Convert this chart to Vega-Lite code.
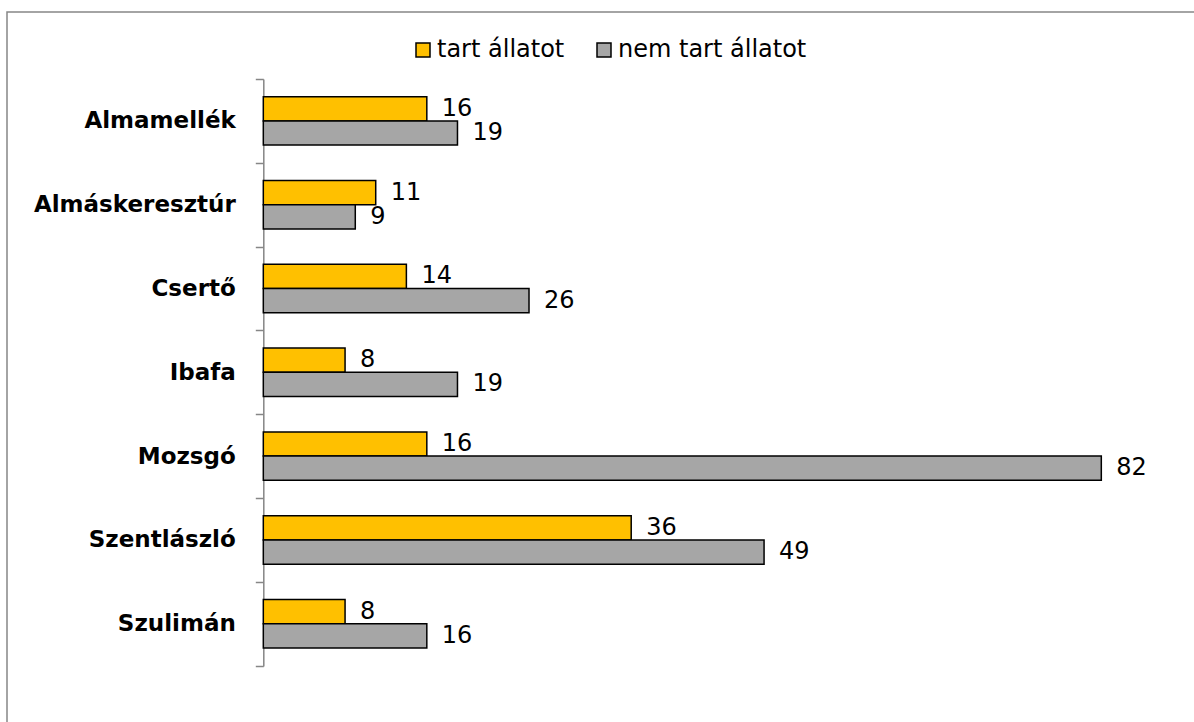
{
  "$schema": "https://vega.github.io/schema/vega-lite/v6.json",
  "autosize": {"type": "none"},
  "padding": {"left": 7, "top": 12, "right": 0, "bottom": 0},
  "width": 1187,
  "height": 710,
  "background": "white",
  "config": {
    "font": "DejaVu Sans",
    "view": {"stroke": "#868686", "strokeWidth": 1.5, "strokeDash": [1187, 1897, 710, 10]}
  },
  "data": {
    "values": [
      {"telepules": "Almamellék", "csoport": "tart állatot", "ertek": 16},
      {"telepules": "Almamellék", "csoport": "nem tart állatot", "ertek": 19},
      {"telepules": "Almáskeresztúr", "csoport": "tart állatot", "ertek": 11},
      {"telepules": "Almáskeresztúr", "csoport": "nem tart állatot", "ertek": 9},
      {"telepules": "Csertő", "csoport": "tart állatot", "ertek": 14},
      {"telepules": "Csertő", "csoport": "nem tart állatot", "ertek": 26},
      {"telepules": "Ibafa", "csoport": "tart állatot", "ertek": 8},
      {"telepules": "Ibafa", "csoport": "nem tart állatot", "ertek": 19},
      {"telepules": "Mozsgó", "csoport": "tart állatot", "ertek": 16},
      {"telepules": "Mozsgó", "csoport": "nem tart állatot", "ertek": 82},
      {"telepules": "Szentlászló", "csoport": "tart állatot", "ertek": 36},
      {"telepules": "Szentlászló", "csoport": "nem tart állatot", "ertek": 49},
      {"telepules": "Szulimán", "csoport": "tart állatot", "ertek": 8},
      {"telepules": "Szulimán", "csoport": "nem tart állatot", "ertek": 16}
    ]
  },
  "encoding": {
    "y": {
      "field": "telepules",
      "type": "nominal",
      "sort": ["Almamellék", "Almáskeresztúr", "Csertő", "Ibafa", "Mozsgó", "Szentlászló", "Szulimán"],
      "scale": {"paddingInner": 0, "paddingOuter": 0.736, "align": 0.543},
      "axis": {
        "title": null,
        "offset": -256.3,
        "domainColor": "#868686",
        "domainWidth": 1.5,
        "domainDash": [0, 67, 587, 200],
        "tickColor": "#868686",
        "tickWidth": 1.5,
        "tickSize": 8,
        "tickBand": "extent",
        "labelFont": "DejaVu Sans",
        "labelFontSize": 23,
        "labelFontWeight": "bold",
        "labelColor": "black",
        "labelPadding": 20,
        "labelLimit": 0
      }
    },
    "yOffset": {
      "field": "csoport",
      "type": "nominal",
      "sort": ["tart állatot", "nem tart állatot"],
      "scale": {"paddingInner": 0, "paddingOuter": 0.73}
    },
    "x": {
      "field": "ertek",
      "type": "quantitative",
      "scale": {"domain": [-25.08, 91.07], "nice": false, "zero": false},
      "axis": null
    }
  },
  "layer": [
    {
      "mark": {"type": "bar", "stroke": "black", "strokeWidth": 1.5},
      "encoding": {
        "x": {"field": "ertek", "type": "quantitative", "stack": null},
        "color": {
          "field": "csoport",
          "type": "nominal",
          "scale": {"domain": ["tart állatot", "nem tart állatot"], "range": ["#FFC000", "#A6A6A6"]},
          "legend": {
            "title": null,
            "orient": "none",
            "direction": "horizontal",
            "legendX": 404,
            "legendY": 26,
            "labelFont": "DejaVu Sans",
            "labelFontSize": 24,
            "labelColor": "black",
            "labelLimit": 0,
            "symbolType": "square",
            "symbolSize": 196,
            "symbolStrokeColor": "black",
            "symbolStrokeWidth": 1.5,
            "symbolOpacity": 1,
            "labelOffset": 2,
            "columnPadding": 27,
            "padding": 0
          }
        }
      }
    },
    {
      "mark": {"type": "text", "align": "left", "baseline": "middle", "dx": 15, "fontSize": 24, "font": "DejaVu Sans", "color": "black"},
      "encoding": {
        "text": {"field": "ertek", "type": "quantitative"}
      }
    }
  ]
}
